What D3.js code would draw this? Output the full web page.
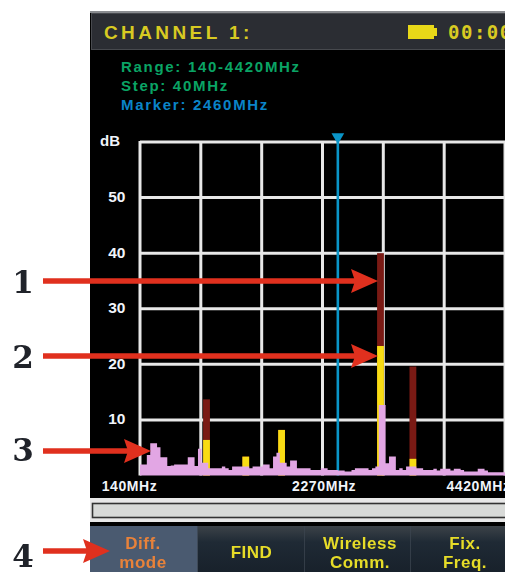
<!DOCTYPE html>
<html lang="en">
<head>
<meta charset="UTF-8">
<title>Channel 1 spectrum</title>
<script src="https://d3js.org/d3.v7.min.js"></script>
<style>
    html, body { margin: 0; padding: 0; background: #fff; overflow: hidden; }
    svg { display: block; filter: blur(0.55px); }
    .mono { font-family: "DejaVu Sans Mono", monospace; font-weight: bold; }
    .sans { font-family: "Liberation Sans", sans-serif; font-weight: bold; }
</style>
</head>
<body>
<div id="chart"></div>
<script>
    const width = 505;
    const height = 572;

    // background spectrum, one value per 40 MHz step starting at 140 MHz
    const startFreq = 140;
    const stepFreq = 40;
    const noiseDb = [
        2.0, 2.0, 3.7, 5.8, 5.8, 5.1, 3.3, 3.3, 1.7, 1.8,
        2.0, 2.0, 2.0, 2.0, 3.3, 3.3, 1.7, 4.8, 2.3, 2.3,
        1.3, 1.3, 1.3, 1.3, 1.6, 1.3, 1.0, 1.6, 1.6, 1.6,
        1.6, 1.6, 1.3, 1.6, 1.6, 1.6, 2.0, 2.0, 1.3, 3.4,
        4.1, 2.3, 2.3, 1.6, 2.7, 2.7, 1.3, 1.3, 1.3, 1.3,
        1.0, 1.0, 1.0, 1.3, 1.3, 1.0, 1.0, 1.0, 0.9, 0.9,
        0.7, 0.7, 1.0, 1.3, 1.3, 1.3, 1.3, 1.0, 1.3, 1.6,
        12.7, 12.7, 2.2, 3.4, 3.4, 1.0, 1.3, 1.0, 1.6, 1.6,
        1.6, 1.3, 1.3, 1.0, 1.0, 1.0, 1.2, 0.9, 1.2, 1.2,
        1.2, 0.9, 1.2, 1.2, 1.0, 0.7, 0.7, 0.7, 0.7, 1.2,
        1.2, 0.9, 0.6, 0.6, 0.6, 0.6, 0.6
    ];

    // the signals that stand out above the background
    const spikeFreq = [880, 1340, 1760, 2920, 3300];
    const spikeCurrentDb = [6.4, 3.4, 8.2, 23.3, 3.0];
    const spikeMaxDb = [13.7, 3.4, 8.2, 40.0, 19.6];
    const spikeBins = 2;

    const markerFreq = 2460;
    const dbTicks = [10, 20, 30, 40, 50];
    const gridDb = [10, 20, 30, 40, 50, 60];
    const gridFreq = [140, 853, 1567, 2280, 2993, 3707, 4420];
    const freqLabels = [140, 2270, 4420];

    const infoTexts = ["Range: 140-4420MHz", "Step: 40MHz", "Marker: 2460MHz"];
    const buttonTexts = [["Diff.", "mode"], ["FIND"], ["Wireless", "Comm."], ["Fix.", "Freq."]];
    const calloutTexts = ["1", "2", "3", "4"];

    // layout of the device around the plot
    const freqLabelDx = [-11, 2, -27];
    const infoColors = ["#0aa465", "#0aa465", "#0a84c8"];
    const buttonEdges = [90, 198, 305, 411, 519];
    const buttonNudge = [-1, 0, 2, 0];
    const calloutY = [281, 356, 451, 551];
    const calloutTip = [378, 378, 151, 110];
    const calloutTextY = [293, 368, 461, 567];

    const x = d3.scaleLinear().domain([140, 4420]).range([140, 505]);
    const y = d3.scaleLinear().domain([0, 60]).range([475.5, 142]);
    const binW = x(startFreq + stepFreq) - x(startFreq);

    const svg = d3.select("#chart").append("svg")
        .attr("width", width)
        .attr("height", height);

    const grad = svg.append("defs").append("linearGradient")
        .attr("id", "btn").attr("x1", 0).attr("x2", 0).attr("y1", 0).attr("y2", 1);
    grad.append("stop").attr("offset", "0%").attr("stop-color", "#3c4248");
    grad.append("stop").attr("offset", "35%").attr("stop-color", "#1f2a35");
    grad.append("stop").attr("offset", "100%").attr("stop-color", "#18212b");

    // device panel
    svg.append("rect").attr("x", 90).attr("y", 11).attr("width", 415).attr("height", 561).attr("fill", "#000");
    svg.append("rect").attr("x", 90).attr("y", 11).attr("width", 415).attr("height", 2).attr("fill", "#8a8c90");
    svg.append("rect").attr("x", 91.5).attr("y", 13.5).attr("width", 414).attr("height", 36)
        .attr("fill", "#2b2d33").attr("stroke", "#47494e");

    svg.append("text").attr("class", "sans")
        .attr("x", 104).attr("y", 39)
        .attr("font-size", 19).attr("letter-spacing", 3.4).attr("fill", "#d8ca22")
        .text("CHANNEL 1:");
    svg.append("rect").attr("x", 408).attr("y", 25).attr("width", 26).attr("height", 14).attr("fill", "#e8d818");
    svg.append("rect").attr("x", 434).attr("y", 28).attr("width", 3).attr("height", 8).attr("fill", "#e8d818");
    svg.append("text").attr("class", "mono")
        .attr("x", 448).attr("y", 39)
        .attr("font-size", 19).attr("letter-spacing", 1.5).attr("fill", "#d8ca22")
        .text("00:00");

    svg.append("g").selectAll("text")
        .data(infoTexts)
        .enter().append("text")
        .attr("class", "sans")
        .attr("x", 121)
        .attr("y", (d, i) => 72 + i * 19)
        .attr("font-size", 15)
        .attr("letter-spacing", 1.7)
        .attr("fill", (d, i) => infoColors[i])
        .text(d => d);

    // grid
    const grid = svg.append("g").attr("stroke", "#e8e8e8").attr("stroke-width", 3);
    grid.selectAll(".h").data(gridDb)
        .enter().append("line").attr("class", "h")
        .attr("x1", x(140)).attr("x2", width)
        .attr("y1", d => y(d)).attr("y2", d => y(d));
    grid.selectAll(".v").data(gridFreq)
        .enter().append("line").attr("class", "v")
        .attr("x1", d => x(d)).attr("x2", d => x(d))
        .attr("y1", y(60) - 1).attr("y2", y(0));

    // marker
    svg.append("line")
        .attr("x1", x(markerFreq)).attr("x2", x(markerFreq))
        .attr("y1", y(60)).attr("y2", y(0))
        .attr("stroke", "#0a95c8").attr("stroke-width", 2.6);
    svg.append("path")
        .attr("d", d3.symbol().type(d3.symbolTriangle).size(70))
        .attr("transform", `translate(${x(markerFreq)},137) rotate(180)`)
        .attr("fill", "#0a95c8");

    // spectrum: max hold, current, background
    const spikes = spikeFreq.map((f, i) => ({ f: f, cur: spikeCurrentDb[i], max: spikeMaxDb[i] }));
    const spikeW = binW * spikeBins;

    svg.append("g").selectAll("rect")
        .data(spikes)
        .enter().append("rect")
        .attr("x", d => x(d.f)).attr("width", spikeW)
        .attr("y", d => y(d.max)).attr("height", d => y(0) - y(d.max))
        .attr("fill", "#7a1a14");
    svg.append("g").selectAll("rect")
        .data(spikes)
        .enter().append("rect")
        .attr("x", d => x(d.f)).attr("width", spikeW)
        .attr("y", d => y(d.cur)).attr("height", d => y(0) - y(d.cur))
        .attr("fill", "#f8dc14");

    const noiseArea = d3.area()
        .curve(d3.curveStepAfter)
        .x((d, i) => x(startFreq + i * stepFreq))
        .y0(y(0))
        .y1(d => y(d));
    svg.append("path")
        .datum(noiseDb.concat(noiseDb[noiseDb.length - 1]))
        .attr("d", noiseArea)
        .attr("fill", "#e2a6e4");

    // axes
    const yAxis = svg.append("g")
        .attr("transform", "translate(125.5,-1)")
        .call(d3.axisLeft(y).tickValues(dbTicks).tickSize(0).tickPadding(0));
    yAxis.select(".domain").remove();
    yAxis.selectAll("text")
        .attr("class", "sans").attr("font-size", 15.5).attr("fill", "#f0f4fa").attr("font-family", null);

    svg.append("text").attr("class", "sans")
        .attr("x", 100).attr("y", 146)
        .attr("font-size", 15).attr("fill", "#f0f4fa")
        .text("dB");

    const xAxis = svg.append("g")
        .attr("transform", "translate(0,476)")
        .call(d3.axisBottom(x).tickValues(freqLabels).tickSize(0).tickPadding(5)
            .tickFormat(d => d + "MHz"));
    xAxis.select(".domain").remove();
    xAxis.selectAll("text")
        .attr("class", "sans").attr("font-size", 14).attr("letter-spacing", 0.6)
        .attr("fill", "#f0f4fa").attr("font-family", null)
        .attr("dx", (d, i) => freqLabelDx[i]);

    // progress bar under the plot
    svg.append("rect").attr("x", 90).attr("y", 498).attr("width", 415).attr("height", 24).attr("fill", "#e8e8e8");
    svg.append("rect").attr("x", 92.5).attr("y", 503.5).attr("width", 414).attr("height", 14)
        .attr("fill", "#d8dad8").attr("stroke", "#333").attr("stroke-width", 1.6);
    svg.append("rect").attr("x", 90).attr("y", 522).attr("width", 415).attr("height", 4).attr("fill", "#000");

    // soft keys
    const btn = svg.append("g").selectAll("g")
        .data(buttonTexts)
        .enter().append("g");
    btn.append("rect")
        .attr("x", (d, i) => buttonEdges[i]).attr("y", 526)
        .attr("width", (d, i) => buttonEdges[i + 1] - buttonEdges[i]).attr("height", 46)
        .attr("fill", (d, i) => i === 0 ? "#4a5a70" : "url(#btn)");
    btn.append("line")
        .attr("x1", (d, i) => buttonEdges[i + 1]).attr("x2", (d, i) => buttonEdges[i + 1])
        .attr("y1", 526).attr("y2", 572)
        .attr("stroke", "#3c4650").attr("stroke-width", 1.5);
    btn.each(function(lines, b) {
        const cx = (buttonEdges[b] + buttonEdges[b + 1]) / 2 + buttonNudge[b];
        const first = lines.length === 1 ? 558 : 549;
        d3.select(this).selectAll("text")
            .data(lines)
            .enter().append("text")
            .attr("class", "sans")
            .attr("x", cx)
            .attr("y", (t, i) => first + i * 19)
            .attr("text-anchor", "middle")
            .attr("font-size", 17)
            .attr("letter-spacing", 0.5)
            .attr("fill", b === 0 ? "#e8823a" : "#e6dc28")
            .text(t => t);
    });

    // numbered call-outs
    const call = svg.append("g").selectAll("g")
        .data(calloutTexts)
        .enter().append("g");
    call.append("text")
        .attr("x", 23).attr("y", (d, i) => calloutTextY[i])
        .attr("text-anchor", "middle")
        .attr("font-family", "'DejaVu Serif', serif")
        .attr("font-weight", "bold")
        .attr("font-size", 31)
        .attr("fill", "#20232a")
        .text(d => d);
    call.append("line")
        .attr("x1", 43).attr("x2", (d, i) => calloutTip[i] - 23)
        .attr("y1", (d, i) => calloutY[i]).attr("y2", (d, i) => calloutY[i])
        .attr("stroke", "#e0301e").attr("stroke-width", 5.5);
    call.append("path")
        .attr("d", (d, i) => {
            const t = calloutTip[i], c = calloutY[i];
            return d3.line()([[t, c], [t - 27, c - 12], [t - 23, c], [t - 27, c + 12]]) + "Z";
        })
        .attr("fill", "#e0301e");
</script>
</body>
</html>
